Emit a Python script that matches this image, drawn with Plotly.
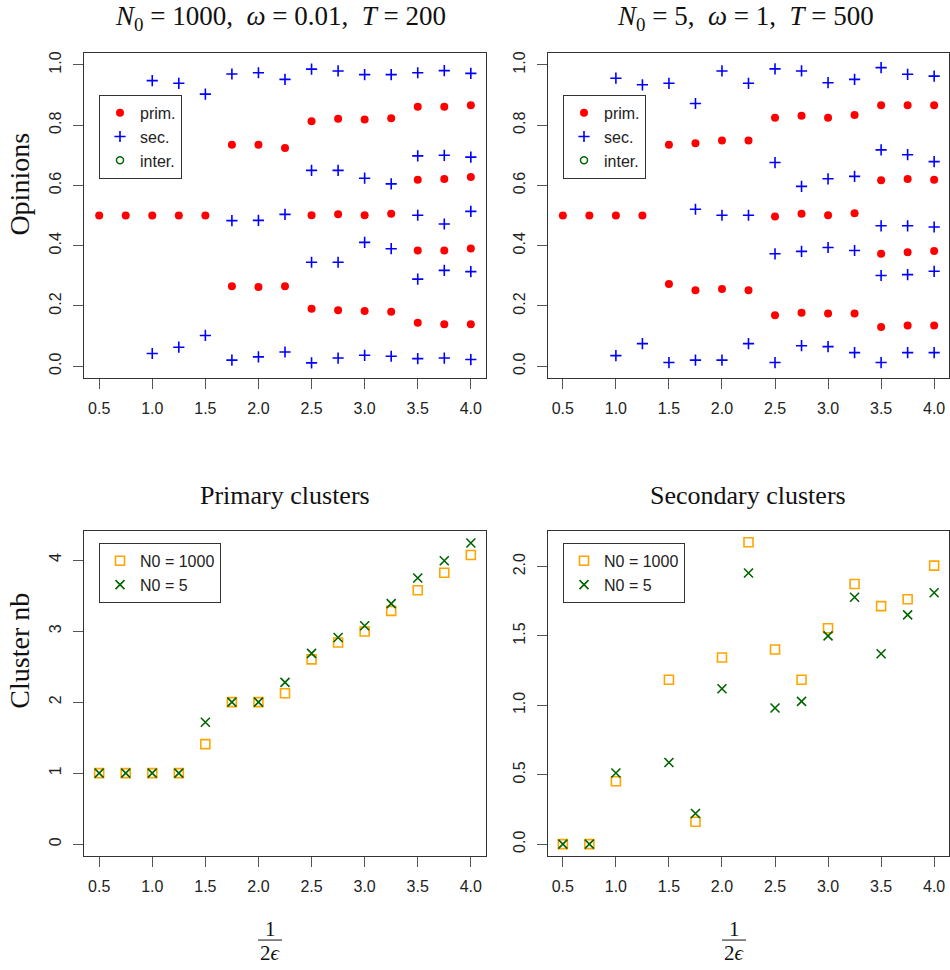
import plotly.graph_objects as go

W, H = 950, 970

x_vals = [0.5, 0.75, 1.0, 1.25, 1.5, 1.75, 2.0, 2.25, 2.5, 2.75, 3.0, 3.25, 3.5, 3.75, 4.0]
x_ticks = [0.5, 1.0, 1.5, 2.0, 2.5, 3.0, 3.5, 4.0]

# Opinions, N0 = 1000, omega = 0.01, T = 200
prim_n1000 = [
    [0.5], [0.5], [0.5], [0.5], [0.5],
    [0.735, 0.265], [0.735, 0.263], [0.724, 0.265],
    [0.813, 0.501, 0.191], [0.821, 0.504, 0.186], [0.819, 0.501, 0.183], [0.823, 0.506, 0.181],
    [0.861, 0.619, 0.384, 0.144], [0.861, 0.621, 0.384, 0.139], [0.866, 0.628, 0.391, 0.139],
]
sec_n1000 = [
    [], [], [0.948, 0.042], [0.939, 0.063], [0.903, 0.102],
    [0.970, 0.483, 0.020], [0.974, 0.484, 0.031], [0.952, 0.504, 0.047],
    [0.986, 0.650, 0.345, 0.011], [0.980, 0.650, 0.345, 0.027],
    [0.968, 0.624, 0.411, 0.036], [0.968, 0.605, 0.390, 0.033],
    [0.974, 0.698, 0.501, 0.289, 0.025], [0.981, 0.700, 0.472, 0.318, 0.027],
    [0.972, 0.694, 0.514, 0.314, 0.022],
]

# Opinions, N0 = 5, omega = 1, T = 500
prim_n5 = [
    [0.5], [0.5], [0.5], [0.5],
    [0.735, 0.273], [0.740, 0.252], [0.749, 0.256], [0.749, 0.252],
    [0.825, 0.497, 0.169], [0.831, 0.506, 0.177], [0.825, 0.501, 0.175], [0.834, 0.508, 0.175],
    [0.866, 0.617, 0.373, 0.130], [0.866, 0.621, 0.378, 0.135], [0.866, 0.619, 0.382, 0.135],
]
sec_n5 = [
    [], [], [0.956, 0.035], [0.934, 0.075], [0.939, 0.012],
    [0.872, 0.521, 0.020], [0.980, 0.501, 0.020], [0.939, 0.501, 0.075],
    [0.987, 0.676, 0.373, 0.012], [0.980, 0.597, 0.381, 0.068],
    [0.941, 0.622, 0.394, 0.065], [0.952, 0.630, 0.384, 0.045],
    [0.991, 0.718, 0.466, 0.301, 0.012], [0.969, 0.702, 0.466, 0.304, 0.045],
    [0.963, 0.679, 0.462, 0.315, 0.045],
]

# Cluster counts
primary_n1000 = [1.0, 1.0, 1.0, 1.0, 1.408, 2.0, 2.0, 2.124, 2.601, 2.840, 2.994, 3.284, 3.574, 3.822, 4.070]
primary_n5 = [1.0, 1.0, 1.0, 1.0, 1.717, 2.0, 2.0, 2.278, 2.685, 2.910, 3.074, 3.387, 3.747, 3.990, 4.239]
secondary_n1000 = [0.0, 0.0, 0.453, None, 1.185, 0.161, 1.345, 2.175, 1.403, 1.185, 1.556, 1.875, 1.715, 1.765, 2.007]
secondary_n5 = [0.0, 0.0, 0.513, None, 0.588, 0.221, 1.120, 1.954, 0.981, 1.029, 1.501, 1.779, 1.372, 1.652, 1.811]


def flatten(groups):
    xs, ys = [], []
    for x, g in zip(x_vals, groups):
        for v in g:
            xs.append(x)
            ys.append(v)
    return xs, ys


RED = "#FF0000"
BLUE = "#0000FF"
GREEN = "#006400"
ORANGE = "#FFA500"

fig = go.Figure()

for idx, (prim, sec) in enumerate([(prim_n1000, sec_n1000), (prim_n5, sec_n5)]):
    ax = "" if idx == 0 else "2"
    lg = "legend" if idx == 0 else "legend2"
    px_, py_ = flatten(prim)
    sx_, sy_ = flatten(sec)
    fig.add_trace(go.Scatter(x=px_, y=py_, mode="markers", name="prim.",
                             xaxis="x" + ax, yaxis="y" + ax, legend=lg,
                             marker=dict(symbol="circle", size=8, color=RED)))
    fig.add_trace(go.Scatter(x=sx_, y=sy_, mode="markers", name="sec.",
                             xaxis="x" + ax, yaxis="y" + ax, legend=lg,
                             marker=dict(symbol="cross-thin-open", size=8, color=BLUE,
                                         line=dict(color=BLUE, width=1.6))))
    fig.add_trace(go.Scatter(x=[None], y=[None], mode="markers", name="inter.",
                             xaxis="x" + ax, yaxis="y" + ax, legend=lg,
                             marker=dict(symbol="circle-open", size=7, color=GREEN,
                                         line=dict(color=GREEN, width=1.5))))

for idx, (a, b) in enumerate([(primary_n1000, primary_n5), (secondary_n1000, secondary_n5)]):
    ax = "3" if idx == 0 else "4"
    lg = "legend3" if idx == 0 else "legend4"
    fig.add_trace(go.Scatter(x=x_vals, y=a, mode="markers", name="N0 = 1000",
                             xaxis="x" + ax, yaxis="y" + ax, legend=lg,
                             marker=dict(symbol="square-open", size=9, color=ORANGE,
                                         line=dict(color=ORANGE, width=1.6))))
    fig.add_trace(go.Scatter(x=x_vals, y=b, mode="markers", name="N0 = 5",
                             xaxis="x" + ax, yaxis="y" + ax, legend=lg,
                             marker=dict(symbol="x-thin-open", size=9, color=GREEN,
                                         line=dict(color=GREEN, width=1.6))))

tickfont = dict(family="Liberation Sans, Arial, sans-serif", size=16, color="#222")
common = dict(showline=True, mirror=True, linecolor="#333", linewidth=1,
              ticks="outside", ticklen=10, tickcolor="#555", tickwidth=1,
              showgrid=False, zeroline=False, tickfont=tickfont)

xl = [84.3 / W, 485.7 / W]
xr = [548 / W, 949 / W]
yt = [1 - 377 / H, 1 - 51 / H]
yb = [1 - 856 / H, 1 - 530 / H]
xrange = [0.5 - 0.14, 4.0 + 0.14]

def xa(dom, anchor):
    return dict(common, domain=dom, anchor=anchor, range=xrange,
                tickvals=x_ticks, tickformat=".1f", ticklabelstandoff=6)

def ya(dom, anchor, rng, tv, fmt):
    return dict(common, domain=dom, anchor=anchor, range=rng, tickvals=tv,
                tickformat=fmt, tickangle=-90, ticklabelstandoff=6)

legend_common = dict(bgcolor="white", bordercolor="#333", borderwidth=1,
                     font=dict(family="Liberation Sans, Arial, sans-serif", size=16, color="#222"),
                     xanchor="left", yanchor="top", tracegroupgap=0, traceorder="normal")

serif = "Liberation Serif, Times New Roman, serif"
title_font = dict(family=serif, size=26, color="#111")
math_font = dict(family=serif, size=27, color="#111")
axis_font = dict(family=serif, size=28, color="#111")

fig.update_layout(
    width=W, height=H, margin=dict(l=0, r=0, t=0, b=0),
    paper_bgcolor="white", plot_bgcolor="white",
    xaxis=xa(xl, "y"), yaxis=ya(yt, "x", [-0.04, 1.04], [0, 0.2, 0.4, 0.6, 0.8, 1.0], ".1f"),
    xaxis2=xa(xr, "y2"), yaxis2=ya(yt, "x2", [-0.04, 1.04], [0, 0.2, 0.4, 0.6, 0.8, 1.0], ".1f"),
    xaxis3=xa(xl, "y3"), yaxis3=ya(yb, "x3", [-0.17, 4.41], [0, 1, 2, 3, 4], "d"),
    xaxis4=xa(xr, "y4"), yaxis4=ya(yb, "x4", [-0.087, 2.257], [0, 0.5, 1.0, 1.5, 2.0], ".1f"),
    legend=dict(legend_common, x=99 / W, y=1 - 93 / H),
    legend2=dict(legend_common, x=563 / W, y=1 - 93 / H),
    legend3=dict(legend_common, x=99 / W, y=1 - 542 / H),
    legend4=dict(legend_common, x=563 / W, y=1 - 542 / H),
    showlegend=True,
)

annotations = [
    dict(text="<i>N</i><sub>0</sub> = 1000,  <i>ω</i> = 0.01,  <i>T</i> = 200",
         x=280 / W, y=1 - 16 / H, font=math_font),
    dict(text="<i>N</i><sub>0</sub> = 5,  <i>ω</i> = 1,  <i>T</i> = 500",
         x=745 / W, y=1 - 16 / H, font=math_font),
    dict(text="Primary clusters", x=285 / W, y=1 - 495 / H),
    dict(text="Secondary clusters", x=748 / W, y=1 - 495 / H),
    dict(text="Opinions", x=20 / W, y=1 - 183 / H, textangle=-90, font=axis_font),
    dict(text="Cluster nb", x=20 / W, y=1 - 650 / H, textangle=-90, font=axis_font),
]
for cx in (270, 734):
    annotations.append(dict(text="1", x=cx / W, y=1 - 929 / H, font=dict(title_font, size=21)))
    annotations.append(dict(text="2<i>ϵ</i>", x=cx / W, y=1 - 953 / H, font=dict(title_font, size=21)))
for a in annotations:
    a.setdefault("font", title_font)
    a.update(xref="paper", yref="paper", showarrow=False, xanchor="center", yanchor="middle")
fig.update_layout(annotations=annotations)

shapes = []
for cx in (270, 734):
    shapes.append(dict(type="line", xref="paper", yref="paper",
                       x0=(cx - 12) / W, x1=(cx + 12) / W, y0=1 - 940 / H, y1=1 - 940 / H,
                       line=dict(color="#111", width=1)))
fig.update_layout(shapes=shapes)

fig.write_html("out.html")
